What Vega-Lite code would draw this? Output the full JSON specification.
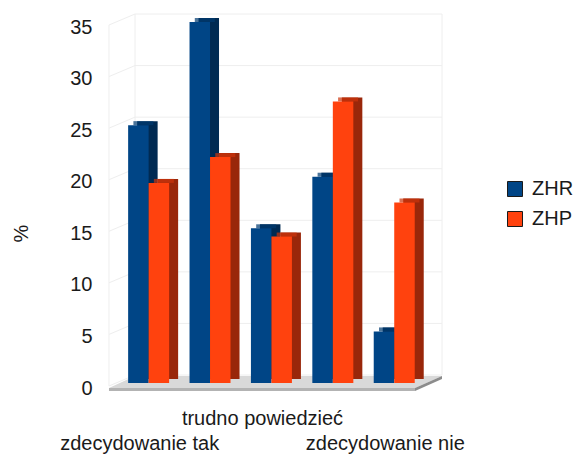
{
"$schema":"https://vega.github.io/schema/vega-lite/v6.json",
"width":307,"height":361,
"autosize":{"type":"none"},
"padding":{"left":118,"top":22,"right":151,"bottom":74},
"background":"white",
"config":{"view":{"stroke":null},"font":"Liberation Sans"},
"datasets":{
"bars":[
{"odpowiedz":"zdecydowanie tak","seria":"ZHR","procent":25},
{"odpowiedz":"zdecydowanie tak","seria":"ZHP","procent":19.4},
{"odpowiedz":"raczej tak","seria":"ZHR","procent":35},
{"odpowiedz":"raczej tak","seria":"ZHP","procent":21.9},
{"odpowiedz":"trudno powiedzieć","seria":"ZHR","procent":15},
{"odpowiedz":"trudno powiedzieć","seria":"ZHP","procent":14.2},
{"odpowiedz":"raczej nie","seria":"ZHR","procent":20},
{"odpowiedz":"raczej nie","seria":"ZHP","procent":27.3},
{"odpowiedz":"zdecydowanie nie","seria":"ZHR","procent":5},
{"odpowiedz":"zdecydowanie nie","seria":"ZHP","procent":17.5}],
"grid":[{"v":0},{"v":5},{"v":10},{"v":15},{"v":20},{"v":25},{"v":30},{"v":35}],
"floorTop":[{"v":0.68,"a":0.277,"b":5.277},{"v":-0.49,"a":-0.147,"b":4.837}],
"floorFront":[{"v":-0.49,"a":-0.147,"b":4.837},{"v":-0.78,"a":-0.147,"b":4.837}],
"floorSide":[{"p":4.837,"u":-0.49,"l":-0.78},{"p":5.277,"u":0.68,"l":0.39}]
},
"layer":[
{"data":{"name":"grid"},"mark":{"type":"rule","color":"#eeeeee","strokeWidth":1,"yOffset":-8},
 "encoding":{"x":{"datum":0.277,"type":"quantitative","scale":{"domain":[0,5]},"axis":null},"x2":{"datum":5.277},"y":{"field":"v","type":"quantitative","scale":{"domain":[0,35]},
   "title":"%","axis":{"values":[0,5,10,15,20,25,30,35],"grid":false,"domain":false,"ticks":false,"labelFontSize":20,"labelColor":"#1a1a1a","labelPadding":26,"labelOffset":5,"labelBound":false,"labelFlush":false,"labelOverlap":false,"titleFontSize":20,"titleFontWeight":"normal","titleColor":"#1a1a1a","titleX":-87,"titleY":211}}}},
{"data":{"name":"grid"},"mark":{"type":"rule","color":"#eeeeee","strokeWidth":1,"yOffset":3,"y2Offset":-8},
 "encoding":{"x":{"datum":-0.147,"type":"quantitative","scale":{"domain":[0,5]},"axis":null},"x2":{"datum":0.277},"y":{"field":"v","type":"quantitative"},"y2":{"field":"v"}}},
{"data":{"values":[{"p":-0.147}]},"mark":{"type":"rule","color":"#eeeeee","yOffset":3,"y2Offset":3},
 "encoding":{"x":{"field":"p","type":"quantitative","scale":{"domain":[0,5]},"axis":null},"y":{"datum":0,"type":"quantitative"},"y2":{"datum":35}}},
{"data":{"values":[{"p":0.277},{"p":5.277}]},"mark":{"type":"rule","color":"#eeeeee","yOffset":-8,"y2Offset":-8},
 "encoding":{"x":{"field":"p","type":"quantitative","scale":{"domain":[0,5]},"axis":null},"y":{"datum":0,"type":"quantitative"},"y2":{"datum":35}}},
{"data":{"name":"floorTop"},"mark":{"type":"area","orient":"horizontal","color":"#d9d9d9"},
 "encoding":{"y":{"field":"v","type":"quantitative"},"x":{"field":"a","type":"quantitative","scale":{"domain":[0,5]},"axis":null,"stack":null},"x2":{"field":"b"}}},
{"data":{"name":"floorFront"},"mark":{"type":"area","orient":"horizontal","color":"#b3b3b3"},
 "encoding":{"y":{"field":"v","type":"quantitative"},"x":{"field":"a","type":"quantitative","scale":{"domain":[0,5]},"axis":null,"stack":null},"x2":{"field":"b"}}},
{"data":{"name":"floorSide"},"mark":{"type":"area","orient":"vertical","color":"#8c8c8c"},
 "encoding":{"x":{"field":"p","type":"quantitative","scale":{"domain":[0,5]},"axis":null},"y":{"field":"u","type":"quantitative","stack":null},"y2":{"field":"l"}}},
{"data":{"name":"bars"},"mark":{"type":"bar","yOffset":-4,"y2Offset":-4},
 "encoding":{
  "x":{"field":"odpowiedz","type":"nominal","sort":null,"axis":null,"scale":{"paddingInner":0.33,"paddingOuter":0.165}},
  "xOffset":{"field":"seria","type":"nominal","sort":["ZHR","ZHP"],"scale":{"range":[9,50]}},
  "y":{"field":"procent","type":"quantitative"},"y2":{"datum":0},
  "color":{"field":"seria","type":"nominal","legend":null,"scale":{"domain":["ZHR","ZHP"],"range":["#002a52","#99270a"]}}}},
{"data":{"name":"bars"},"mark":{"type":"tick","orient":"horizontal","size":20,"thickness":4,"yOffset":-2},
 "encoding":{
  "x":{"field":"odpowiedz","type":"nominal","sort":null,"axis":null,"scale":{"paddingInner":0.33,"paddingOuter":0.165}},
  "xOffset":{"field":"seria","type":"nominal","sort":["ZHR","ZHP"],"scale":{"range":[5,46]}},
  "y":{"field":"procent","type":"quantitative"},
  "color":{"field":"seria","type":"nominal","legend":null,"scale":{"domain":["ZHR","ZHP"],"range":["#003a70","#cc350b"]}}}},
{"data":{"name":"bars"},"mark":{"type":"bar"},
 "encoding":{
  "x":{"field":"odpowiedz","type":"nominal","sort":null,"title":null,"scale":{"paddingInner":0.33,"paddingOuter":0.165},
   "axis":{"values":["zdecydowanie tak","trudno powiedzieć","zdecydowanie nie"],"labelAngle":0,"labelFontSize":20,"labelColor":"#1a1a1a","domain":false,"ticks":false,"labelOverlap":false,"labelBound":false,"labelFlush":false,"labelLimit":300,"labelOffset":-9,"labelPadding":25,"labelBaseline":"top","labelLineHeight":25,"labelExpr":"datum.label=='trudno powiedzieć'?datum.label:['',datum.label]"}},
  "xOffset":{"field":"seria","type":"nominal","sort":["ZHR","ZHP"],"scale":{"range":[0,41]}},
  "y":{"field":"procent","type":"quantitative"},
  "y2":{"datum":0},
  "color":{"field":"seria","type":"nominal","scale":{"domain":["ZHR","ZHP"],"range":["#004586","#ff420e"]},
   "legend":{"title":null,"orient":"none","legendX":387,"legendY":157,"symbolType":"square","symbolSize":225,"symbolStrokeColor":"#1a1a1a","symbolStrokeWidth":1,"labelFontSize":20,"labelColor":"#1a1a1a","rowPadding":10,"labelOffset":7}}}}
],
"resolve":{"scale":{"x":"independent","xOffset":"independent","color":"independent"}}
}
